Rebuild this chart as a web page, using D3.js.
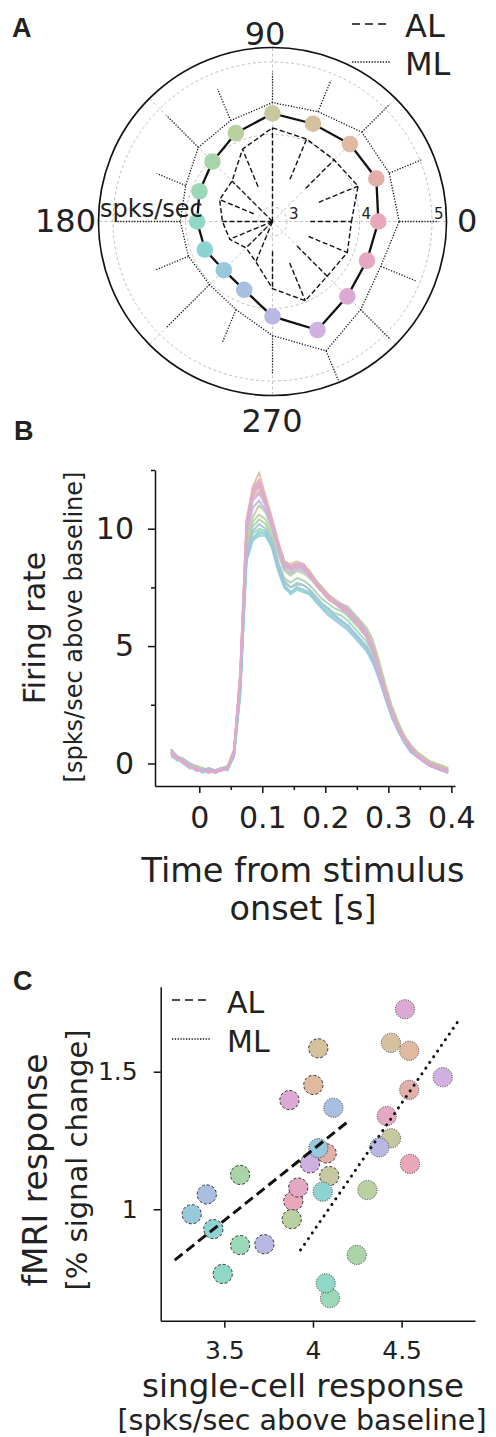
<!DOCTYPE html>
<html><head><meta charset="utf-8">
<script src="https://cdn.jsdelivr.net/npm/d3@7"></script>
<style>
body{margin:0;background:#fff;}
svg{display:block;}
text{font-family:"DejaVu Sans",sans-serif;fill:#222;}
</style></head><body>
<svg id="fig" width="496" height="1437"></svg>
<script>
// ---------------- DATA ----------------
const directions = [0,22.5,45,67.5,90,112.5,135,157.5,180,202.5,225,247.5,270,292.5,315,337.5];
const palette = ["#e8a8b8","#e2b0a8","#e0b9a0","#d6c19f","#c8c8a0","#b9d0a0","#a8d4a8","#9ad8b8",
                 "#90d8c6","#8cd3d2","#98c8dc","#a8bfe0","#b9b8e4","#d0b0e0","#dca8d4","#e4a8c4"];
// Panel A: polar tuning (spks/sec)
const meanResp = [4.26,4.35,4.31,4.26,4.29,4.12,3.97,3.89,3.84,3.81,3.75,3.82,4.11,4.42,4.26,4.21];
const alResp   = [3.889,4.077,4.002,4.03,4.092,3.88,3.589,3.589,3.491,3.438,3.316,3.401,3.726,3.983,3.867,3.917];
const mlResp   = [4.547,4.543,4.543,4.44,4.44,4.307,4.247,4.096,4.072,4.055,4.03,4.115,4.374,4.732,4.519,4.416];
const alLow    = [3.32,3.49,3.45,3.43,2.8,3.32,2.8,3.08,2.8,2.8,2.8,2.8,3.21,3.42,3.28,3.34];
const mlHigh   = [5.09,5.02,5.08,4.91,4.87,4.78,4.87,4.53,4.97,4.54,4.87,4.61,4.90,5.17,5.08,4.94];
const radialTicks = [3,4,5];
const gridAngles = [0,45,90,135,180,225,270,315];
const angleLabels = ["0","90","180","270"];

// Panel B: PSTH per direction
const times = [-0.045,-0.035,-0.025,-0.015,-0.005,0.005,0.015,0.025,0.035,0.045,0.055,0.065,0.075,0.085,0.095,
  0.105,0.115,0.125,0.135,0.145,0.155,0.165,0.175,0.185,0.195,0.205,0.215,0.225,0.235,0.245,0.255,0.265,0.275,
  0.285,0.295,0.305,0.315,0.325,0.335,0.345,0.355,0.365,0.375,0.385,0.395];
const psth = [
 [0.5,0.2,0.1,-0.1,-0.2,-0.3,-0.3,-0.4,-0.2,-0.2,0.5,3.8,10.2,11.6,12.0,11.2,10.4,9.4,8.6,8.4,8.5,8.5,8.1,7.7,7.4,7.1,6.9,6.7,6.5,6.2,5.9,5.5,4.9,4.0,3.1,2.3,1.6,1.1,0.7,0.4,0.2,0.0,-0.1,-0.2,-0.3],
 [0.4,0.3,0.0,-0.2,-0.1,-0.3,-0.4,-0.3,-0.3,-0.1,0.6,3.6,10.0,11.4,11.8,11.0,10.2,9.3,8.5,8.3,8.4,8.3,8.0,7.6,7.3,7.0,6.8,6.6,6.4,6.1,5.8,5.4,4.8,3.9,3.0,2.2,1.5,1.0,0.6,0.4,0.1,0.0,-0.2,-0.3,-0.3],
 [0.6,0.3,0.2,0.0,-0.2,-0.2,-0.3,-0.3,-0.2,-0.2,0.4,3.5,9.8,11.3,11.6,11.1,10.3,9.2,8.5,8.4,8.5,8.4,8.2,7.8,7.5,7.2,6.9,6.7,6.5,6.2,5.9,5.5,4.9,4.1,3.2,2.4,1.7,1.1,0.7,0.4,0.2,0.0,-0.1,-0.2,-0.2],
 [0.5,0.2,0.1,-0.1,-0.3,-0.3,-0.2,-0.4,-0.3,-0.2,0.5,3.9,10.4,11.8,12.4,11.4,10.5,9.5,8.6,8.5,8.6,8.5,8.2,7.8,7.5,7.2,7.0,6.8,6.6,6.3,6.0,5.6,5.0,4.1,3.2,2.3,1.6,1.1,0.7,0.4,0.2,0.0,-0.1,-0.2,-0.3],
 [0.4,0.2,0.0,-0.1,-0.2,-0.2,-0.3,-0.3,-0.2,-0.1,0.5,3.4,9.4,10.5,11.0,10.7,10.0,9.1,8.4,8.2,8.4,8.3,8.1,7.8,7.4,7.1,6.9,6.8,6.7,6.4,6.1,5.8,5.3,4.4,3.4,2.5,1.8,1.2,0.8,0.5,0.3,0.1,0.0,-0.1,-0.2],
 [0.5,0.3,0.2,0.0,-0.1,-0.2,-0.3,-0.3,-0.2,-0.2,0.4,3.3,9.2,10.3,10.6,10.4,9.8,8.9,8.2,8.0,8.2,8.1,7.9,7.6,7.3,7.0,6.8,6.7,6.6,6.3,6.0,5.7,5.2,4.3,3.3,2.4,1.7,1.2,0.8,0.5,0.3,0.1,0.0,-0.1,-0.2],
 [0.3,0.2,0.1,-0.1,-0.2,-0.3,-0.2,-0.3,-0.3,-0.2,0.4,3.2,9.0,10.1,10.4,10.2,9.6,8.6,7.9,7.7,7.9,7.8,7.6,7.3,7.0,6.8,6.6,6.5,6.3,6.0,5.7,5.4,4.9,4.1,3.2,2.4,1.7,1.1,0.7,0.4,0.2,0.0,-0.1,-0.2,-0.3],
 [0.4,0.1,0.2,-0.1,-0.3,-0.2,-0.3,-0.4,-0.2,-0.2,0.3,3.1,8.8,9.8,10.0,9.9,9.4,8.4,7.7,7.5,7.6,7.6,7.4,7.1,6.8,6.6,6.4,6.3,6.1,5.8,5.5,5.2,4.7,3.9,3.0,2.2,1.6,1.0,0.6,0.4,0.2,0.0,-0.1,-0.2,-0.3],
 [0.6,0.3,0.1,0.0,-0.2,-0.3,-0.3,-0.3,-0.3,-0.2,0.3,3.0,8.7,9.6,9.9,9.8,9.3,8.3,7.5,7.3,7.5,7.4,7.3,7.0,6.7,6.5,6.3,6.1,5.9,5.6,5.3,5.0,4.5,3.8,2.9,2.1,1.5,1.0,0.6,0.3,0.1,0.0,-0.2,-0.3,-0.4],
 [0.5,0.2,0.0,-0.2,-0.2,-0.4,-0.3,-0.3,-0.2,-0.3,0.3,2.9,8.6,9.5,9.7,9.7,9.2,8.2,7.5,7.2,7.4,7.3,7.2,6.9,6.6,6.4,6.2,6.0,5.8,5.5,5.2,4.9,4.4,3.7,2.8,2.0,1.4,0.9,0.5,0.3,0.1,-0.1,-0.2,-0.3,-0.4],
 [0.3,0.2,0.1,-0.1,-0.2,-0.3,-0.2,-0.3,-0.3,-0.2,0.3,3.0,8.7,9.6,9.8,9.8,9.3,8.3,7.6,7.3,7.5,7.4,7.2,6.9,6.6,6.3,6.1,5.9,5.7,5.4,5.1,4.8,4.3,3.6,2.8,2.0,1.4,0.9,0.5,0.3,0.1,-0.1,-0.2,-0.3,-0.4],
 [0.4,0.3,0.0,-0.1,-0.3,-0.3,-0.3,-0.3,-0.2,-0.2,0.4,3.2,9.0,9.9,10.2,10.0,9.5,8.5,7.8,7.5,7.7,7.6,7.4,7.1,6.8,6.6,6.3,6.1,5.9,5.6,5.3,5.0,4.5,3.7,2.8,2.1,1.5,1.0,0.6,0.3,0.1,0.0,-0.2,-0.3,-0.3],
 [0.5,0.2,0.1,-0.1,-0.2,-0.3,-0.3,-0.3,-0.3,-0.2,0.5,3.5,9.7,10.9,11.2,10.8,10.1,9.1,8.3,8.1,8.3,8.2,8.0,7.7,7.4,7.1,6.9,6.8,6.6,6.3,6.0,5.6,5.0,4.1,3.1,2.3,1.6,1.1,0.7,0.4,0.2,0.0,-0.1,-0.2,-0.3],
 [0.4,0.2,0.1,-0.2,-0.2,-0.3,-0.4,-0.3,-0.2,-0.2,0.5,3.6,10.0,11.2,11.5,11.0,10.2,9.2,8.4,8.3,8.4,8.3,8.1,7.7,7.4,7.1,6.9,6.7,6.5,6.2,5.9,5.5,4.9,4.0,3.1,2.3,1.6,1.1,0.7,0.4,0.2,0.0,-0.1,-0.2,-0.3],
 [0.6,0.3,0.1,-0.1,-0.3,-0.3,-0.3,-0.4,-0.3,-0.2,0.5,3.8,10.2,11.5,11.9,11.2,10.3,9.3,8.5,8.3,8.4,8.4,8.0,7.6,7.3,7.0,6.8,6.6,6.4,6.1,5.8,5.4,4.8,3.9,3.0,2.2,1.5,1.0,0.6,0.3,0.1,-0.1,-0.2,-0.3,-0.4],
 [0.5,0.2,0.0,-0.1,-0.2,-0.3,-0.3,-0.3,-0.3,-0.2,0.5,3.9,10.3,11.7,12.1,11.3,10.4,9.4,8.6,8.4,8.5,8.5,8.1,7.7,7.4,7.1,6.9,6.7,6.5,6.2,5.9,5.5,4.9,4.0,3.1,2.3,1.6,1.1,0.7,0.4,0.2,0.0,-0.1,-0.2,-0.3]
];
const psthXMajor = [0,0.1,0.2,0.3,0.4];
const psthXMinor = [0.05,0.15,0.25,0.35];
const psthYMajor = [0,5,10];
const psthYMinor = [2.5,7.5,12.5];

// Panel C: fMRI vs single-cell
const alFMRI = [1.03,1.203,1.452,1.585,1.121,0.964,1.125,0.87,0.765,0.928,0.982,1.054,0.873,1.167,1.397,1.079];
const mlFMRI = [1.165,1.434,1.576,1.605,1.258,1.07,0.834,0.677,0.731,1.064,1.222,1.369,1.225,1.48,1.727,1.339];
const alFitX = [3.22,4.19], alFitY = [0.815,1.315];
const mlFitX = [3.93,4.83], mlFitY = [0.852,1.694];
const scatXTicks = [3.5,4,4.5];
const scatYTicks = [1,1.5];

// ---------------- DRAWING ----------------
const svg = d3.select("#fig");
const FONT = '"DejaVu Sans",sans-serif';
const INK = "#111";

function panelLetter(t,x,y){
  svg.append("text").attr("x",x).attr("y",y).text(t)
    .style("font-family",'"Liberation Sans",Arial,sans-serif').style("font-weight","bold")
    .attr("font-size",27).attr("fill","#111");
}
function styleAxis(g,fs){
  g.attr("font-family",FONT).attr("font-size",fs);
  g.select(".domain").attr("stroke",INK).attr("stroke-width",1.5);
  g.selectAll(".tick line").attr("stroke",INK).attr("stroke-width",1.5);
  g.selectAll(".tick text").attr("fill","#222");
}

// ===== Panel A =====
panelLetter("A",12,37);
const cx=272.5, cy=221.5, R=174;
const rS = d3.scaleLinear().domain([2.8,5.2]).range([0,R]);
const ang = d => (90-d)*Math.PI/180;
const P = (deg,v) => d3.pointRadial(ang(deg), rS(v));
const gA = svg.append("g").attr("transform",`translate(${cx},${cy})`);
radialTicks.forEach(v=>{
  gA.append("circle").attr("r",rS(v)).attr("fill","none").attr("stroke","#b8b8b8")
    .attr("stroke-width",0.9).attr("stroke-dasharray","3,2.5");
});
gridAngles.forEach(a=>{
  const p=P(a,5.2);
  gA.append("line").attr("x1",0).attr("y1",0).attr("x2",p[0]).attr("y2",p[1])
    .attr("stroke","#bdbdbd").attr("stroke-width",0.9).attr("stroke-dasharray","3,2.5");
});
gA.append("circle").attr("r",R).attr("fill","none").attr("stroke",INK).attr("stroke-width",1.7);

const radial = d3.lineRadial().angle((d,i)=>ang(directions[i])).radius(d=>rS(d)).curve(d3.curveLinearClosed);
// AL
gA.append("path").attr("d",radial(alResp)).attr("fill","none").attr("stroke",INK)
  .attr("stroke-width",1.4).attr("stroke-dasharray","5,2.6");
directions.forEach((d,i)=>{
  const a=P(d,alLow[i]), b=P(d,alResp[i]);
  gA.append("line").attr("x1",a[0]).attr("y1",a[1]).attr("x2",b[0]).attr("y2",b[1])
    .attr("stroke",INK).attr("stroke-width",1.4).attr("stroke-dasharray","5,2.6");
});
// ML
gA.append("path").attr("d",radial(mlResp)).attr("fill","none").attr("stroke",INK)
  .attr("stroke-width",1.3).attr("stroke-dasharray","1.2,1.6");
directions.forEach((d,i)=>{
  const a=P(d,mlResp[i]), b=P(d,mlHigh[i]);
  gA.append("line").attr("x1",a[0]).attr("y1",a[1]).attr("x2",b[0]).attr("y2",b[1])
    .attr("stroke",INK).attr("stroke-width",1.3).attr("stroke-dasharray","1.2,1.6");
});
// mean
gA.append("path").attr("d",radial(meanResp)).attr("fill","none").attr("stroke",INK).attr("stroke-width",2.3);
gA.selectAll("circle.dot").data(meanResp).enter().append("circle").attr("class","dot")
  .attr("cx",(v,i)=>P(directions[i],v)[0]).attr("cy",(v,i)=>P(directions[i],v)[1])
  .attr("r",8.3).attr("fill",(v,i)=>palette[i]);
// radial tick labels
radialTicks.forEach(v=>{
  svg.append("text").attr("x",cx+rS(v)+2).attr("y",cy-3).text(v).attr("font-size",15);
});
svg.append("text").attr("x",100).attr("y",217).text("spks/sec").attr("font-size",24);
// angle labels
const angPos = {"0":[457,232,"start"],"90":[265,45,"middle"],"180":[35,232,"start"],"270":[272,432,"middle"]};
angleLabels.forEach(l=>{
  const p=angPos[l];
  svg.append("text").attr("x",p[0]).attr("y",p[1]).attr("text-anchor",p[2]).text(l).attr("font-size",32);
});
// legend A
svg.append("line").attr("x1",352).attr("x2",390).attr("y1",24).attr("y2",24).attr("stroke",INK)
  .attr("stroke-width",1.5).attr("stroke-dasharray","8,5");
svg.append("text").attr("x",405).attr("y",37).text("AL").attr("font-size",32);
svg.append("line").attr("x1",352).attr("x2",390).attr("y1",62).attr("y2",62).attr("stroke",INK)
  .attr("stroke-width",1.5).attr("stroke-dasharray","1.3,1.5");
svg.append("text").attr("x",405).attr("y",75).text("ML").attr("font-size",32);

// ===== Panel B =====
panelLetter("B",14,440);
const xB = d3.scaleLinear().domain([-0.0703,0.4058]).range([155,455]);
const yB = d3.scaleLinear().domain([-0.96,12.5]).range([786,470]);
const lineB = d3.line().x((d,i)=>xB(times[i])).y(d=>yB(d));
const gB = svg.append("g");
psth.forEach((s,i)=>{
  gB.append("path").attr("d",lineB(s)).attr("fill","none").attr("stroke",palette[i])
    .attr("stroke-width",2).attr("stroke-opacity",0.9).attr("stroke-linejoin","round");
});
const yAxB = svg.append("g").attr("transform","translate(155,0)")
  .call(d3.axisLeft(yB).tickValues(psthYMajor).tickSize(7).tickPadding(14).tickSizeOuter(0).tickFormat(d3.format("d")));
styleAxis(yAxB,30);
const yAxBm = svg.append("g").attr("transform","translate(155,0)")
  .call(d3.axisLeft(yB).tickValues(psthYMinor).tickSize(4).tickFormat(""));
styleAxis(yAxBm,30); yAxBm.select(".domain").remove();
const xAxB = svg.append("g").attr("transform","translate(0,786)")
  .call(d3.axisBottom(xB).tickValues(psthXMajor).tickSize(7).tickPadding(14).tickSizeOuter(0).tickFormat(d=>d===0?"0":String(d)));
styleAxis(xAxB,30);
const xAxBm = svg.append("g").attr("transform","translate(0,786)")
  .call(d3.axisBottom(xB).tickValues(psthXMinor).tickSize(4).tickFormat(""));
styleAxis(xAxBm,30); xAxBm.select(".domain").remove();
svg.append("text").attr("transform","translate(45,628) rotate(-90)").attr("text-anchor","middle")
  .text("Firing rate").attr("font-size",30);
svg.append("text").attr("transform","translate(82,627) rotate(-90)").attr("text-anchor","middle")
  .text("[spks/sec above baseline]").attr("font-size",24);
svg.append("text").attr("x",303).attr("y",882).attr("text-anchor","middle").text("Time from stimulus").attr("font-size",33.5);
svg.append("text").attr("x",303).attr("y",920).attr("text-anchor","middle").text("onset [s]").attr("font-size",33.5);

// ===== Panel C =====
panelLetter("C",13,990);
const xC = d3.scaleLinear().domain([3.141,4.914]).range([160.7,475]);
const yC = d3.scaleLinear().domain([0.595,1.809]).range([1320.7,986.7]);
const gC = svg.append("g");
function drawPts(xs,ys,dash){
  gC.selectAll(null).data(xs).enter().append("circle")
    .attr("cx",d=>xC(d)).attr("cy",(d,i)=>yC(ys[i])).attr("r",9.6)
    .attr("fill",(d,i)=>palette[i]).attr("stroke","#333").attr("stroke-width",1)
    .attr("stroke-dasharray",dash);
}
drawPts(alResp,alFMRI,"3,2");
drawPts(mlResp,mlFMRI,"1,1.4");
gC.append("line").attr("x1",xC(alFitX[0])).attr("y1",yC(alFitY[0])).attr("x2",xC(alFitX[1])).attr("y2",yC(alFitY[1]))
  .attr("stroke",INK).attr("stroke-width",3).attr("stroke-dasharray","10,5");
gC.append("line").attr("x1",xC(mlFitX[0])).attr("y1",yC(mlFitY[0])).attr("x2",xC(mlFitX[1])).attr("y2",yC(mlFitY[1]))
  .attr("stroke",INK).attr("stroke-width",3).attr("stroke-linecap","round").attr("stroke-dasharray","0.1,6.8");
const xAxC = svg.append("g").attr("transform","translate(0,1320.7)")
  .call(d3.axisBottom(xC).tickValues(scatXTicks).tickSize(7).tickPadding(13.5).tickSizeOuter(0).tickFormat(d=>String(d)));
styleAxis(xAxC,25);
const yAxC = svg.append("g").attr("transform","translate(160.7,0)")
  .call(d3.axisLeft(yC).tickValues(scatYTicks).tickSize(7).tickPadding(16).tickSizeOuter(0).tickFormat(d=>String(d)));
styleAxis(yAxC,25);
// legend C
svg.append("line").attr("x1",172).attr("x2",210).attr("y1",1000).attr("y2",1000).attr("stroke",INK)
  .attr("stroke-width",1.5).attr("stroke-dasharray","8,5");
svg.append("text").attr("x",227).attr("y",1013).text("AL").attr("font-size",30);
svg.append("line").attr("x1",172).attr("x2",210).attr("y1",1039).attr("y2",1039).attr("stroke",INK)
  .attr("stroke-width",1.5).attr("stroke-dasharray","1.3,1.5");
svg.append("text").attr("x",227).attr("y",1052).text("ML").attr("font-size",30);
svg.append("text").attr("transform","translate(47,1170) rotate(-90)").attr("text-anchor","middle")
  .text("fMRI response").attr("font-size",33);
svg.append("text").attr("transform","translate(87,1160) rotate(-90)").attr("text-anchor","middle")
  .text("[% signal change]").attr("font-size",29);
svg.append("text").attr("x",303).attr("y",1396.5).attr("text-anchor","middle").text("single-cell response").attr("font-size",32.5);
svg.append("text").attr("x",302).attr("y",1430).attr("text-anchor","middle").text("[spks/sec above baseline]").attr("font-size",28.5);
</script>
</body></html>
